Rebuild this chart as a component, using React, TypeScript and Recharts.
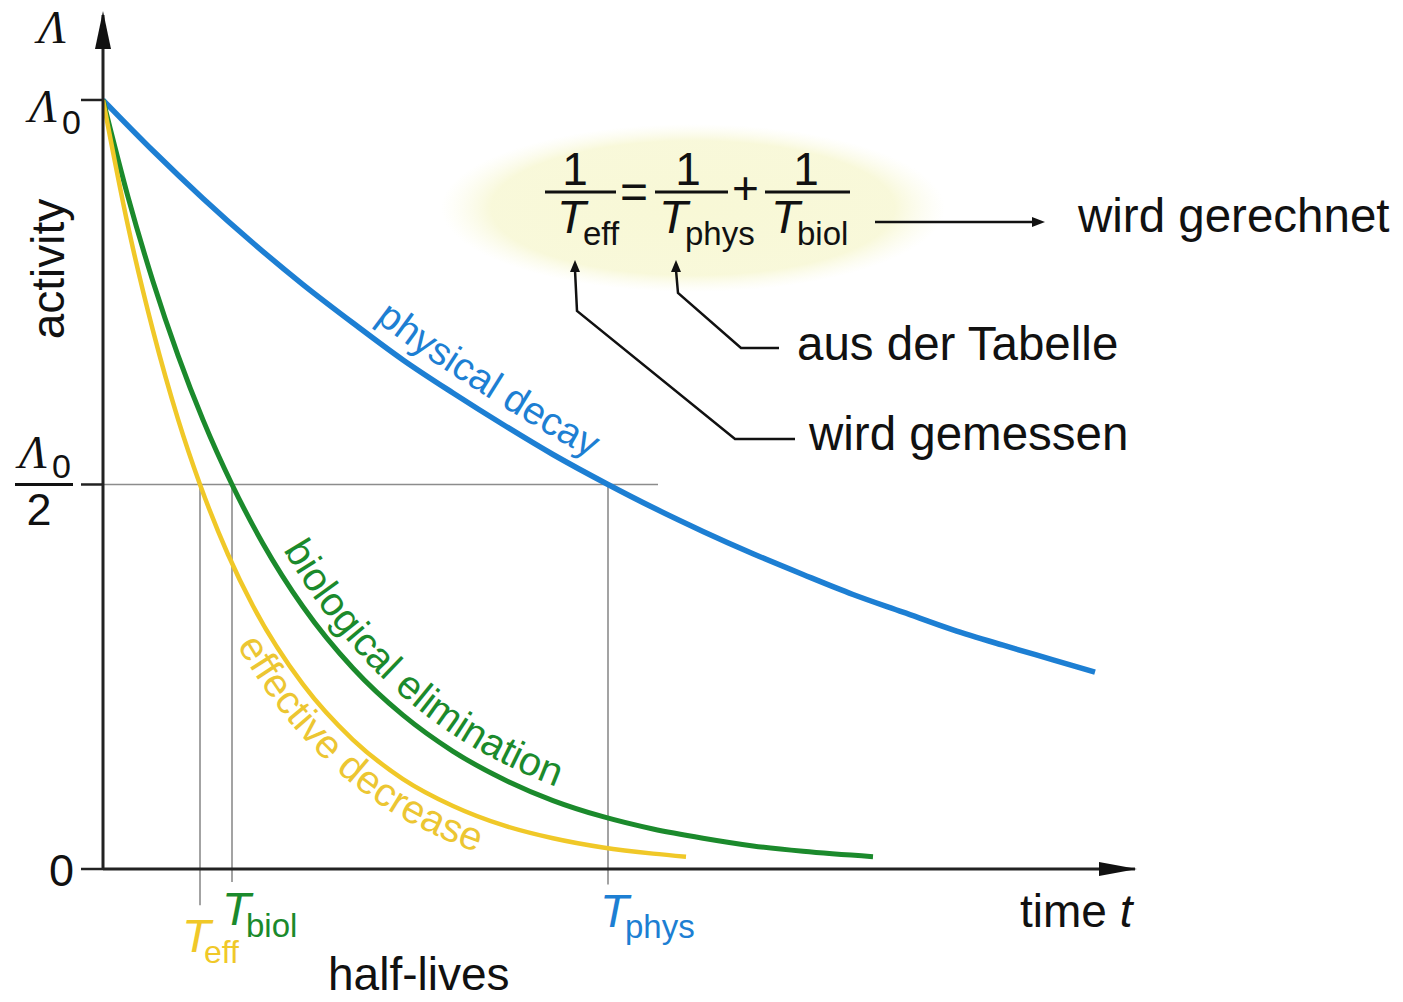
import { LineChart, Line, XAxis, YAxis, ReferenceLine, ReferenceDot } from 'recharts';

// activity (in units of Λ0) over time; 1 time unit = one grid step of the drawing
const physT = [0, 0.5, 1, 1.5, 2, 2.5, 3, 3.5, 4, 4.5, 5.05, 5.5, 6, 6.5, 7, 7.5, 8, 8.5, 9, 9.5, 9.92];
const physA = [1, 0.934, 0.872, 0.814, 0.76, 0.71, 0.662, 0.619, 0.578, 0.539, 0.5, 0.47, 0.439, 0.41, 0.383, 0.357, 0.334, 0.311, 0.291, 0.272, 0.256];

const biolT = [0, 0.25, 0.5, 0.75, 1.0, 1.29, 1.6, 2.0, 2.5, 3.0, 3.5, 4.0, 4.5, 5.0, 5.5, 6.0, 6.5, 7.0, 7.7];
const biolA = [1, 0.874, 0.764, 0.668, 0.584, 0.5, 0.423, 0.341, 0.261, 0.2, 0.153, 0.117, 0.089, 0.068, 0.052, 0.04, 0.03, 0.023, 0.016];

const effT = [0, 0.25, 0.5, 0.75, 0.97, 1.25, 1.5, 2.0, 2.5, 3.0, 3.5, 4.0, 4.5, 5.0, 5.5, 5.83];
const effA = [1, 0.836, 0.7, 0.585, 0.5, 0.409, 0.342, 0.24, 0.168, 0.117, 0.082, 0.057, 0.04, 0.028, 0.02, 0.016];

// half-lives: eff, biol, phys
const halfLifeNames = ['eff', 'biol', 'phys'];
const halfLives = [0.97, 1.29, 5.05];
const guideBottoms = [-0.047, -0.017, -0.02];
const guideRight = 5.55;

const yTicks = [0, 0.5, 1];

const X_MAX = 10.32;
const Y_MAX = 1.1105;
const W = 1403;
const H = 1002;
const PLOT = { left: 103, top: 15, right: 1135, bottom: 869 };

const BLUE = '#1d7fd3';
const GREEN = '#1b8a2c';
const YELLOW = '#f0c828';
const AXIS = '#222';
const GUIDE = '#8c8c8c';
const SANS = '"Liberation Sans", Arial, sans-serif';
const SERIF = '"Liberation Serif", "Times New Roman", serif';

const toRows = (ts: number[], vs: number[]) => ts.map((t, i) => ({ t, a: vs[i] }));
const physData = toRows(physT, physA);
const biolData = toRows(biolT, biolA);
const effData = toRows(effT, effA);

const sx = (t: number) => PLOT.left + (t / X_MAX) * (PLOT.right - PLOT.left);
const sy = (v: number) => PLOT.bottom - (v / Y_MAX) * (PLOT.bottom - PLOT.top);

// smooth path running parallel to a curve, used to set the curved labels
function labelPath(ts: number[], vs: number[], from: number, to: number, offset: number) {
    const raw = ts.map((t, i) => [sx(t), sy(vs[i])]).filter((_, i) => ts[i] >= from && ts[i] <= to);
    const n = raw.length;
    const pts = raw.map((p, i) => {
        const a = raw[Math.max(0, i - 1)];
        const b = raw[Math.min(n - 1, i + 1)];
        const dx = b[0] - a[0];
        const dy = b[1] - a[1];
        const len = Math.hypot(dx, dy) || 1;
        return [p[0] + (dy / len) * offset, p[1] - (dx / len) * offset];
    });
    let d = `M ${pts[0][0]} ${pts[0][1]}`;
    for (let i = 0; i < n - 1; i++) {
        const p0 = pts[Math.max(0, i - 1)];
        const p1 = pts[i];
        const p2 = pts[i + 1];
        const p3 = pts[Math.min(n - 1, i + 2)];
        const c1 = [p1[0] + (p2[0] - p0[0]) / 6, p1[1] + (p2[1] - p0[1]) / 6];
        const c2 = [p2[0] - (p3[0] - p1[0]) / 6, p2[1] - (p3[1] - p1[1]) / 6];
        d += ` C ${c1[0]} ${c1[1]}, ${c2[0]} ${c2[1]}, ${p2[0]} ${p2[1]}`;
    }
    return d;
}

const YTick = (props: any) => {
    const { y, payload } = props;
    const v = payload.value;
    if (v === 1) {
        return (
            <g>
                <text x={29} y={y + 22} fontFamily={SERIF} fontStyle="italic" fontSize={46} fill="#111">Λ</text>
                <text x={62} y={y + 34} fontFamily={SANS} fontSize={34} fill="#111">0</text>
            </g>
        );
    }
    if (v === 0.5) {
        return (
            <g>
                <text x={19} y={y - 16} fontFamily={SERIF} fontStyle="italic" fontSize={46} fill="#111">Λ</text>
                <text x={52} y={y - 6} fontFamily={SANS} fontSize={34} fill="#111">0</text>
                <line x1={15} x2={73} y1={y} y2={y} stroke="#111" strokeWidth={3} />
                <text x={39} y={y + 41} textAnchor="middle" fontFamily={SANS} fontSize={45} fill="#111">2</text>
            </g>
        );
    }
    return <text x={49} y={y + 17} fontFamily={SANS} fontSize={45} fill="#111">0</text>;
};

const Frac = ({ cx, x0, x1, sub, subX, tX }: { cx: number; x0: number; x1: number; sub: string; subX: number; tX: number }) => (
    <g fill="#111" fontFamily={SANS}>
        <text x={cx} y={185} textAnchor="middle" fontSize={46}>1</text>
        <line x1={x0} x2={x1} y1={192} y2={192} stroke="#111" strokeWidth={3} />
        <text x={tX} y={233} fontSize={47} fontStyle="italic">T</text>
        <text x={subX} y={245} fontSize={33}>{sub}</text>
    </g>
);

const Overlay = () => {
    const labelFont = 39;
    return (
        <svg width={W} height={H} style={{ position: 'absolute', left: 0, top: 0, pointerEvents: 'none' }}>
            <defs>
                <radialGradient id="formulaGlow" cx="50%" cy="50%" r="50%">
                    <stop offset="0%" stopColor="#f8f8d6" stopOpacity={1} />
                    <stop offset="80%" stopColor="#f8f8d8" stopOpacity={0.95} />
                    <stop offset="100%" stopColor="#fbfbe6" stopOpacity={0} />
                </radialGradient>
                <path id="physLabel" d={labelPath(physT, physA, 2.5, 5.5, 15)} />
                <path id="biolLabel" d={labelPath(biolT, biolA, 1.6, 5.0, 14)} />
                <path id="effLabel" d={labelPath(effT, effA, 1.25, 4.5, -34)} />
            </defs>

            {/* curve labels */}
            <text fontFamily={SANS} fontSize={labelFont} fill={BLUE}>
                <textPath href="#physLabel" startOffset={16}>physical decay</textPath>
            </text>
            <text fontFamily={SANS} fontSize={40} fill={GREEN}>
                <textPath href="#biolLabel" startOffset={16}>biological elimination</textPath>
            </text>
            <text fontFamily={SANS} fontSize={40} fill="#ecc632">
                <textPath href="#effLabel" startOffset={86}>effective decrease</textPath>
            </text>

            {/* axis titles */}
            <text x={38} y={43} fontFamily={SERIF} fontStyle="italic" fontSize={46} fill="#111">Λ</text>
            <text transform="translate(64 269) rotate(-90)" textAnchor="middle" fontFamily={SANS} fontSize={46} fill="#111">activity</text>
            <text x={1020} y={927} fontFamily={SANS} fontSize={46} fill="#111">
                time <tspan fontStyle="italic">t</tspan>
            </text>
            <text x={328} y={990} fontFamily={SANS} fontSize={46} fill="#111">half-lives</text>

            {/* half-life labels */}
            <g fontFamily={SANS}>
                <text x={sx(halfLives[0]) - 18} y={952} fontSize={47} fontStyle="italic" fill={YELLOW}>T</text>
                <text x={sx(halfLives[0]) + 4} y={963} fontSize={32} fill={YELLOW}>{halfLifeNames[0]}</text>
                <text x={sx(halfLives[1]) - 10} y={925} fontSize={47} fontStyle="italic" fill={GREEN}>T</text>
                <text x={sx(halfLives[1]) + 14} y={937} fontSize={33} fill={GREEN}>{halfLifeNames[1]}</text>
                <text x={sx(halfLives[2]) - 8} y={927} fontSize={47} fontStyle="italic" fill={BLUE}>T</text>
                <text x={sx(halfLives[2]) + 17} y={938} fontSize={33} fill={BLUE}>{halfLifeNames[2]}</text>
            </g>

            {/* formula */}
            <ellipse cx={693} cy={208} rx={252} ry={84} fill="url(#formulaGlow)" />
            <Frac cx={575} x0={545} x1={616} tX={557} subX={583} sub="eff" />
            <text x={620} y={208} fontFamily={SANS} fontSize={48} fill="#111">=</text>
            <Frac cx={688} x0={655} x1={728} tX={659} subX={685} sub="phys" />
            <text x={732} y={204} fontFamily={SANS} fontSize={46} fill="#111">+</text>
            <Frac cx={806} x0={765} x1={850} tX={771} subX={797} sub="biol" />

            {/* arrows */}
            <g stroke="#111" strokeWidth={2.5} fill="none">
                <line x1={875} y1={222} x2={1034} y2={222} />
                <polyline points="676,270 678,293 741,348 779,348" />
                <polyline points="575,270 577,311 735,439 795,439" />
            </g>
            <g fill="#111">
                <polygon points="1045,222 1032,217 1032,227" />
                <polygon points="676,260 671,272 681,272" />
                <polygon points="575,260 570,272 580,272" />
            </g>

            <text x={1078} y={232} fontFamily={SANS} fontSize={47.5} fill="#111">wird gerechnet</text>
            <text x={797} y={360} fontFamily={SANS} fontSize={47.5} fill="#111">aus der Tabelle</text>
            <text x={809} y={450} fontFamily={SANS} fontSize={47.5} fill="#111">wird gemessen</text>
        </svg>
    );
};

export default function App() {
    return (
        <div style={{ position: 'absolute', left: 0, top: 0, width: W, height: H, background: '#fff' }}>
            <LineChart width={W} height={H} margin={{ top: PLOT.top, right: W - PLOT.right, bottom: 0, left: 0 }}>
                <XAxis
                    type="number"
                    dataKey="t"
                    domain={[0, X_MAX]}
                    allowDataOverflow
                    height={H - PLOT.bottom}
                    tick={false}
                    tickLine={false}
                    axisLine={{ stroke: AXIS, strokeWidth: 3 }}
                />
                <YAxis
                    type="number"
                    dataKey="a"
                    domain={[0, Y_MAX]}
                    allowDataOverflow
                    width={PLOT.left}
                    ticks={yTicks}
                    tickSize={22}
                    tickLine={{ stroke: AXIS, strokeWidth: 2.5 }}
                    axisLine={{ stroke: AXIS, strokeWidth: 3 }}
                    tick={YTick}
                />
                <ReferenceLine
                    segment={[{ x: 0, y: 0.5 }, { x: guideRight, y: 0.5 }]}
                    stroke={GUIDE}
                    strokeWidth={1.6}
                    ifOverflow="visible"
                />
                {halfLives.map((h, i) => (
                    <ReferenceLine
                        key={halfLifeNames[i]}
                        segment={[{ x: h, y: 0.5 }, { x: h, y: guideBottoms[i] }]}
                        stroke={GUIDE}
                        strokeWidth={1.6}
                        ifOverflow="visible"
                    />
                ))}
                <ReferenceDot
                    x={0}
                    y={Y_MAX}
                    ifOverflow="visible"
                    shape={(p: any) => <path d={`M ${p.cx} ${p.cy - 4} L ${p.cx - 8} ${p.cy + 34} L ${p.cx + 8} ${p.cy + 34} Z`} fill="#111" />}
                />
                <ReferenceDot
                    x={X_MAX}
                    y={0}
                    ifOverflow="visible"
                    shape={(p: any) => <path d={`M ${p.cx + 2} ${p.cy} L ${p.cx - 36} ${p.cy - 7} L ${p.cx - 36} ${p.cy + 7} Z`} fill="#111" />}
                />
                <Line data={physData} dataKey="a" type="monotone" stroke={BLUE} strokeWidth={5.5} dot={false} isAnimationActive={false} />
                <Line data={biolData} dataKey="a" type="monotone" stroke={GREEN} strokeWidth={5} dot={false} isAnimationActive={false} />
                <Line data={effData} dataKey="a" type="monotone" stroke={YELLOW} strokeWidth={4.5} dot={false} isAnimationActive={false} />
            </LineChart>
            <Overlay />
        </div>
    );
}
